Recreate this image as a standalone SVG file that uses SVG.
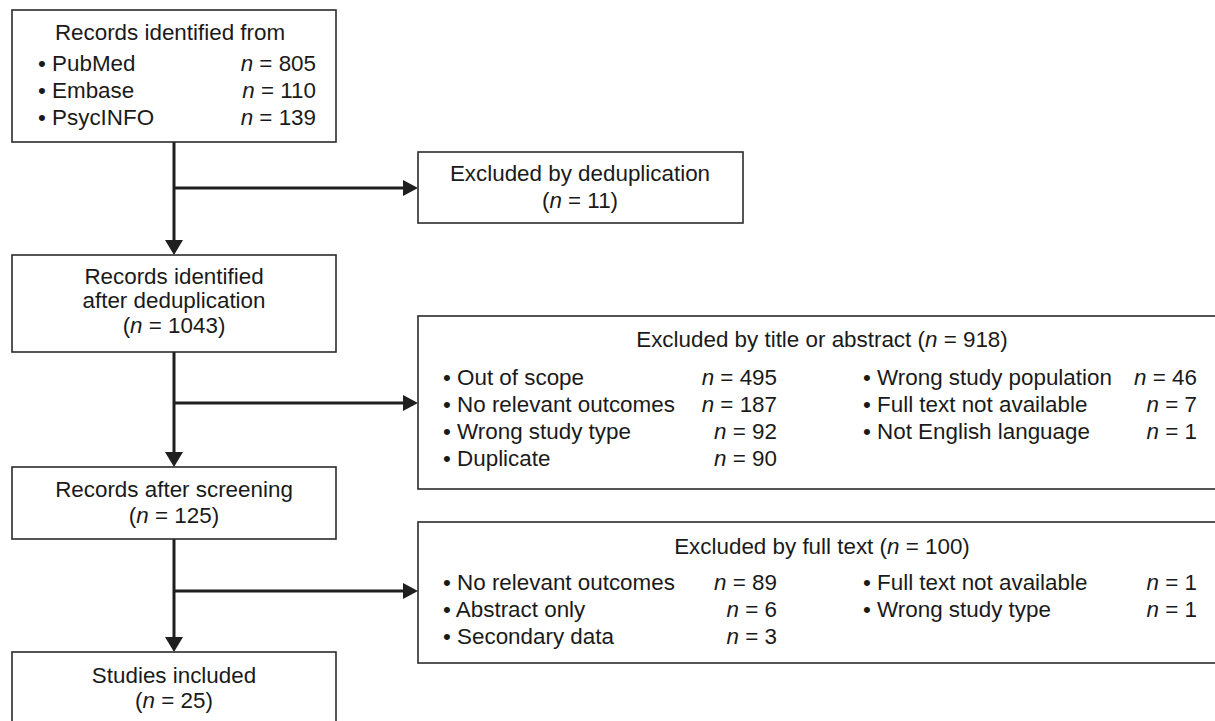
<svg xmlns="http://www.w3.org/2000/svg" width="1215" height="721" viewBox="0 0 1215 721">
<defs>
<style>
.box{fill:#fff;stroke:#2b2b2b;stroke-width:1.6}
.t{font-family:"Liberation Sans",Arial,sans-serif;font-size:22.4px;fill:#1a1a1a}
.c{text-anchor:middle}
.r{text-anchor:end}
.i{font-style:italic}
.ln{fill:none;stroke:#1f1f1f;stroke-width:3}
.ah{fill:#1f1f1f}
</style>
</defs>
<rect width="1215" height="721" fill="#fff"/>
<g id="connectors">
<path class="ln" d="M174 142 V242"/>
<path class="ln" d="M174 188 H404"/>
<path class="ah" d="M165 240 L183 240 L174 255 Z"/>
<path class="ah" d="M403 180 L418 188 L403 196 Z"/>
<path class="ln" d="M174 352 V454"/>
<path class="ln" d="M174 403 H404"/>
<path class="ah" d="M165 452 L183 452 L174 467 Z"/>
<path class="ah" d="M403 395 L418 403 L403 411 Z"/>
<path class="ln" d="M174 539 V639"/>
<path class="ln" d="M174 591 H404"/>
<path class="ah" d="M165 637 L183 637 L174 652 Z"/>
<path class="ah" d="M403 583 L418 591 L403 599 Z"/>
</g>
<g id="records-identified">
<rect class="box" x="12" y="10" width="324" height="132"/>
<text class="t c" x="170" y="40">Records identified from</text>
<text class="t" x="38" y="71">• PubMed</text>
<text class="t r" x="316" y="71"><tspan class="i">n</tspan> = 805</text>
<text class="t" x="38" y="98">• Embase</text>
<text class="t r" x="316" y="98"><tspan class="i">n</tspan> = 110</text>
<text class="t" x="38" y="125">• PsycINFO</text>
<text class="t r" x="316" y="125"><tspan class="i">n</tspan> = 139</text>
</g>
<g id="excluded-dedup">
<rect class="box" x="418" y="152" width="325" height="71"/>
<text class="t c" x="580" y="181">Excluded by deduplication</text>
<text class="t c" x="580" y="208">(<tspan class="i">n</tspan> = 11)</text>
</g>
<g id="after-dedup">
<rect class="box" x="12" y="255" width="324" height="97"/>
<text class="t c" x="174" y="284">Records identified</text>
<text class="t c" x="174" y="308">after deduplication</text>
<text class="t c" x="174" y="333">(<tspan class="i">n</tspan> = 1043)</text>
</g>
<g id="excluded-title">
<rect class="box" x="418" y="316" width="805" height="173"/>
<text class="t c" x="822" y="347">Excluded by title or abstract (<tspan class="i">n</tspan> = 918)</text>
<text class="t" x="443" y="385">• Out of scope</text>
<text class="t r" x="777" y="385"><tspan class="i">n</tspan> = 495</text>
<text class="t" x="443" y="412">• No relevant outcomes</text>
<text class="t r" x="777" y="412"><tspan class="i">n</tspan> = 187</text>
<text class="t" x="443" y="439">• Wrong study type</text>
<text class="t r" x="777" y="439"><tspan class="i">n</tspan> = 92</text>
<text class="t" x="443" y="466">• Duplicate</text>
<text class="t r" x="777" y="466"><tspan class="i">n</tspan> = 90</text>
<text class="t" x="863" y="385">• Wrong study population</text>
<text class="t r" x="1197" y="385"><tspan class="i">n</tspan> = 46</text>
<text class="t" x="863" y="412">• Full text not available</text>
<text class="t r" x="1197" y="412"><tspan class="i">n</tspan> = 7</text>
<text class="t" x="863" y="439">• Not English language</text>
<text class="t r" x="1197" y="439"><tspan class="i">n</tspan> = 1</text>
</g>
<g id="after-screening">
<rect class="box" x="12" y="467" width="324" height="72"/>
<text class="t c" x="174" y="497">Records after screening</text>
<text class="t c" x="174" y="523">(<tspan class="i">n</tspan> = 125)</text>
</g>
<g id="excluded-fulltext">
<rect class="box" x="418" y="522" width="805" height="141"/>
<text class="t c" x="822" y="554">Excluded by full text (<tspan class="i">n</tspan> = 100)</text>
<text class="t" x="443" y="590">• No relevant outcomes</text>
<text class="t r" x="777" y="590"><tspan class="i">n</tspan> = 89</text>
<text class="t" x="443" y="617">• Abstract only</text>
<text class="t r" x="777" y="617"><tspan class="i">n</tspan> = 6</text>
<text class="t" x="443" y="644">• Secondary data</text>
<text class="t r" x="777" y="644"><tspan class="i">n</tspan> = 3</text>
<text class="t" x="863" y="590">• Full text not available</text>
<text class="t r" x="1197" y="590"><tspan class="i">n</tspan> = 1</text>
<text class="t" x="863" y="617">• Wrong study type</text>
<text class="t r" x="1197" y="617"><tspan class="i">n</tspan> = 1</text>
</g>
<g id="studies-included">
<rect class="box" x="12" y="652" width="324" height="80"/>
<text class="t c" x="174" y="683">Studies included</text>
<text class="t c" x="174" y="708">(<tspan class="i">n</tspan> = 25)</text>
</g>
</svg>
